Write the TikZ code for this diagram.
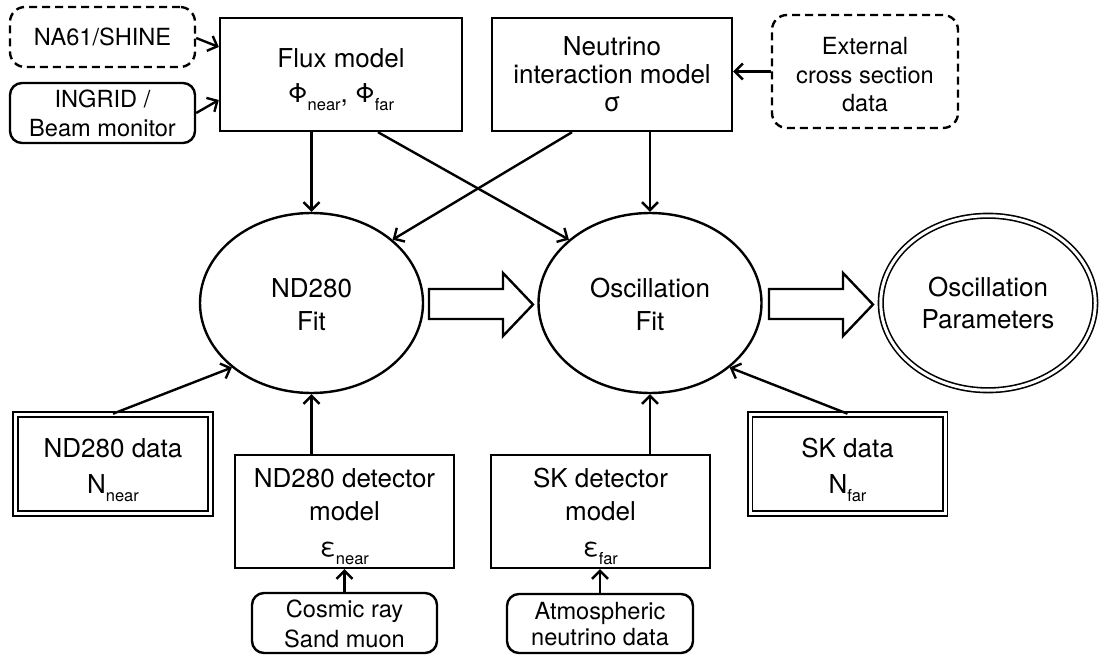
\documentclass[tikz,border=0pt]{standalone}
\usepackage{fontspec}
\setmainfont{TeX Gyre Heros}
\usetikzlibrary{shapes.geometric,arrows.meta}
\newcommand\lo[1]{\raisebox{-0.3em}{\fontsize{16.5}{16.5}\selectfont #1}}
\newcommand\pad[1]{\rule{0pt}{#1}}
\begin{document}
\begin{tikzpicture}[x=1pt,y=-1pt,
  every node/.style={font=\fontsize{26}{28}\selectfont, align=center, inner sep=0pt},
  small/.style={font=\fontsize{23.6}{28}\selectfont},
  sq/.style={draw, line width=2.4pt},
  rbox/.style={draw, line width=2.4pt, rounded corners=12pt, small},
  dbox/.style={draw, line width=2.4pt, rounded corners=15pt, dash pattern=on 8pt off 5pt, small},
  ell/.style={draw, ellipse, line width=2.4pt, minimum width=223pt, minimum height=180pt},
  dbl/.style={draw, double, double distance=3pt, line width=1.6pt},
  arr/.style={-{Straight Barb[length=8pt,width=16pt,line width=2.4pt]}, line width=2.4pt},
  hollow/.style={draw, line width=2.4pt, fill=white, line join=miter}]
\useasboundingbox (0,0) rectangle (1099,655);
% top row
\node[dbox, minimum width=185pt, minimum height=60pt] (na61) at (102.5,37) {NA61/SHINE};
\node[rbox, minimum width=185pt, minimum height=60pt] (ingrid) at (102.5,113) {INGRID /\\[1pt]Beam monitor};
\node[sq, minimum width=242pt, minimum height=113pt] (flux) at (341,74.5) {\pad{30pt}Flux model\\[7pt]Φ\lo{near}, Φ\lo{far}};
\node[sq, minimum width=240pt, minimum height=113pt] (nim) at (612,74.5) {Neutrino\\interaction model\\σ};
\node[dbox, minimum width=186pt, minimum height=113pt] (ext) at (865,71.5) {\pad{23pt}External\\[1pt]cross section\\data};
% middle row
\node[ell] (nd) at (311.5,303) {\pad{22pt}ND280\\[5pt]Fit};
\node[ell] (osc) at (650,303) {\pad{22pt}Oscillation\\[5pt]Fit};
\node[dbl, ellipse, minimum width=214.5pt, minimum height=174.5pt] (par) at (988,303) {Oscillation\\[4pt]Parameters};
% bottom row
\node[dbl, minimum width=195pt, minimum height=99pt] (nddata) at (113,464) {\pad{31pt}ND280 data\\[8pt]N\lo{near}};
\node[sq, minimum width=219pt, minimum height=113pt] (nddet) at (344.5,511.5) {\pad{30pt}ND280 detector\\[5pt]model\\[8pt]ε\lo{near}};
\node[rbox, minimum width=185pt, minimum height=60pt, font=\fontsize{23.6}{30}\selectfont] (cosmic) at (344.5,623) {\pad{20pt}Cosmic ray\\Sand muon};
\node[sq, minimum width=219pt, minimum height=113pt] (skdet) at (600.5,511.5) {\pad{30pt}SK detector\\[5pt]model\\[8pt]ε\lo{far}};
\node[rbox, minimum width=186pt, minimum height=59pt, font=\fontsize{23.6}{26}\selectfont] (atm) at (600,623.5) {\pad{19pt}Atmospheric\\neutrino data};
\node[dbl, minimum width=195pt, minimum height=99pt] (skdata) at (847.5,464) {\pad{31pt}SK data\\[8pt]N\lo{far}};
% connectors
\draw[arr] ([yshift=-1pt]na61.east) -- ([yshift=27.5pt]flux.west);
\draw[arr] (ingrid.east) -- ([yshift=-25.5pt]flux.west);
\draw[arr] (ext.west) -- (ext.west -| nim.east);
\draw[arr] (flux.south -| nd.north) -- (nd.north);
\draw[arr] ([xshift=37pt]flux.south) -- (osc.142);
\draw[arr] ([xshift=-40pt]nim.south) -- (nd.38);
\draw[arr] (nim.south -| osc.north) -- (osc.north);
\draw[arr] (nddata.north) -- (nd.219);
\draw[arr] (skdata.north) -- (osc.321);
\draw[arr] (nddet.north -| nd.south) -- (nd.south);
\draw[arr] (skdet.north -| osc.south) -- (osc.south);
\draw[arr] (cosmic.north) -- (cosmic.north |- nddet.south);
\draw[arr] (atm.north) -- (atm.north |- skdet.south);
% hollow arrows
\draw[hollow] (429,289) -- (503,289) -- (503,273) -- (533,304.5) -- (503,336) -- (503,319) -- (429,319) -- cycle;
\draw[hollow] (769,289) -- (843,289) -- (843,273) -- (873,304.5) -- (843,336) -- (843,319) -- (769,319) -- cycle;
\end{tikzpicture}
\end{document}
